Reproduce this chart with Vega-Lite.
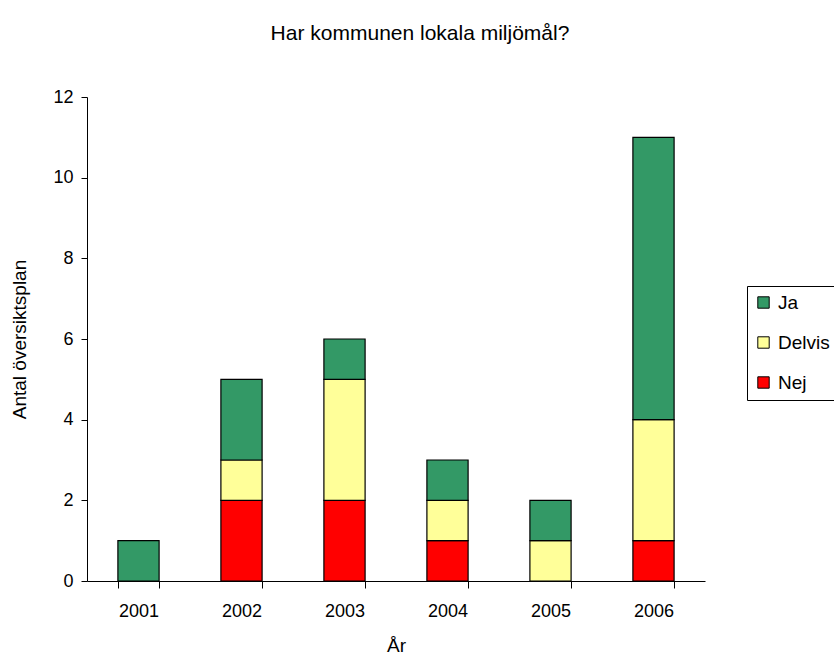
{
  "$schema": "https://vega.github.io/schema/vega-lite/v6.json",
  "autosize": {"type": "none"},
  "width": 618,
  "height": 484,
  "padding": {"left": 87, "top": 97, "right": 129, "bottom": 83},
  "background": "white",
  "config": {
    "font": "Liberation Sans",
    "view": {"stroke": null},
    "axis": {"grid": false, "domainColor": "black", "tickColor": "black", "labelColor": "black", "titleColor": "black", "labelFont": "Liberation Sans", "titleFont": "Liberation Sans", "labelFontSize": 18, "titleFontSize": 19, "titleFontWeight": "normal"}
  },
  "title": {"text": "Har kommunen lokala miljömål?", "font": "Liberation Sans", "fontSize": 21, "fontWeight": "normal", "color": "black", "anchor": "middle", "frame": "group", "dx": 24, "baseline": "bottom", "offset": 23},
  "data": {"values": [
    {"year": "2001", "svar": "Ja", "rank": 3, "antal": 1},
    {"year": "2002", "svar": "Nej", "rank": 1, "antal": 2},
    {"year": "2002", "svar": "Delvis", "rank": 2, "antal": 1},
    {"year": "2002", "svar": "Ja", "rank": 3, "antal": 2},
    {"year": "2003", "svar": "Nej", "rank": 1, "antal": 2},
    {"year": "2003", "svar": "Delvis", "rank": 2, "antal": 3},
    {"year": "2003", "svar": "Ja", "rank": 3, "antal": 1},
    {"year": "2004", "svar": "Nej", "rank": 1, "antal": 1},
    {"year": "2004", "svar": "Delvis", "rank": 2, "antal": 1},
    {"year": "2004", "svar": "Ja", "rank": 3, "antal": 1},
    {"year": "2005", "svar": "Delvis", "rank": 2, "antal": 1},
    {"year": "2005", "svar": "Ja", "rank": 3, "antal": 1},
    {"year": "2006", "svar": "Nej", "rank": 1, "antal": 1},
    {"year": "2006", "svar": "Delvis", "rank": 2, "antal": 3},
    {"year": "2006", "svar": "Ja", "rank": 3, "antal": 7}
  ]},
  "mark": {"type": "bar", "stroke": "black", "strokeWidth": 1.2},
  "encoding": {
    "x": {
      "field": "year", "type": "nominal", "title": "År",
      "scale": {"paddingInner": 0.6, "paddingOuter": 0.3},
      "axis": {"labelAngle": 0, "tickBand": "extent", "tickSize": 7, "labelPadding": 14, "titlePadding": 16}
    },
    "y": {
      "field": "antal", "type": "quantitative", "aggregate": "sum", "stack": "zero",
      "title": "Antal översiktsplan",
      "scale": {"domain": [0, 12], "nice": false},
      "axis": {"values": [0, 2, 4, 6, 8, 10, 12], "tickSize": 6, "labelPadding": 8, "titlePadding": 23}
    },
    "color": {
      "field": "svar", "type": "nominal",
      "scale": {"domain": ["Ja", "Delvis", "Nej"], "range": ["#339966", "#FFFF99", "#FF0000"]},
      "legend": {"title": null, "orient": "none", "legendX": 660, "legendY": 189, "symbolType": "square", "symbolSize": 130, "symbolStrokeColor": "black", "symbolStrokeWidth": 1, "labelFontSize": 19, "labelFont": "Liberation Sans", "labelColor": "black", "strokeColor": "black", "padding": 7, "rowPadding": 20, "labelOffset": 5, "fillColor": "white"}
    },
    "order": {"field": "rank", "type": "quantitative"}
  }
}
